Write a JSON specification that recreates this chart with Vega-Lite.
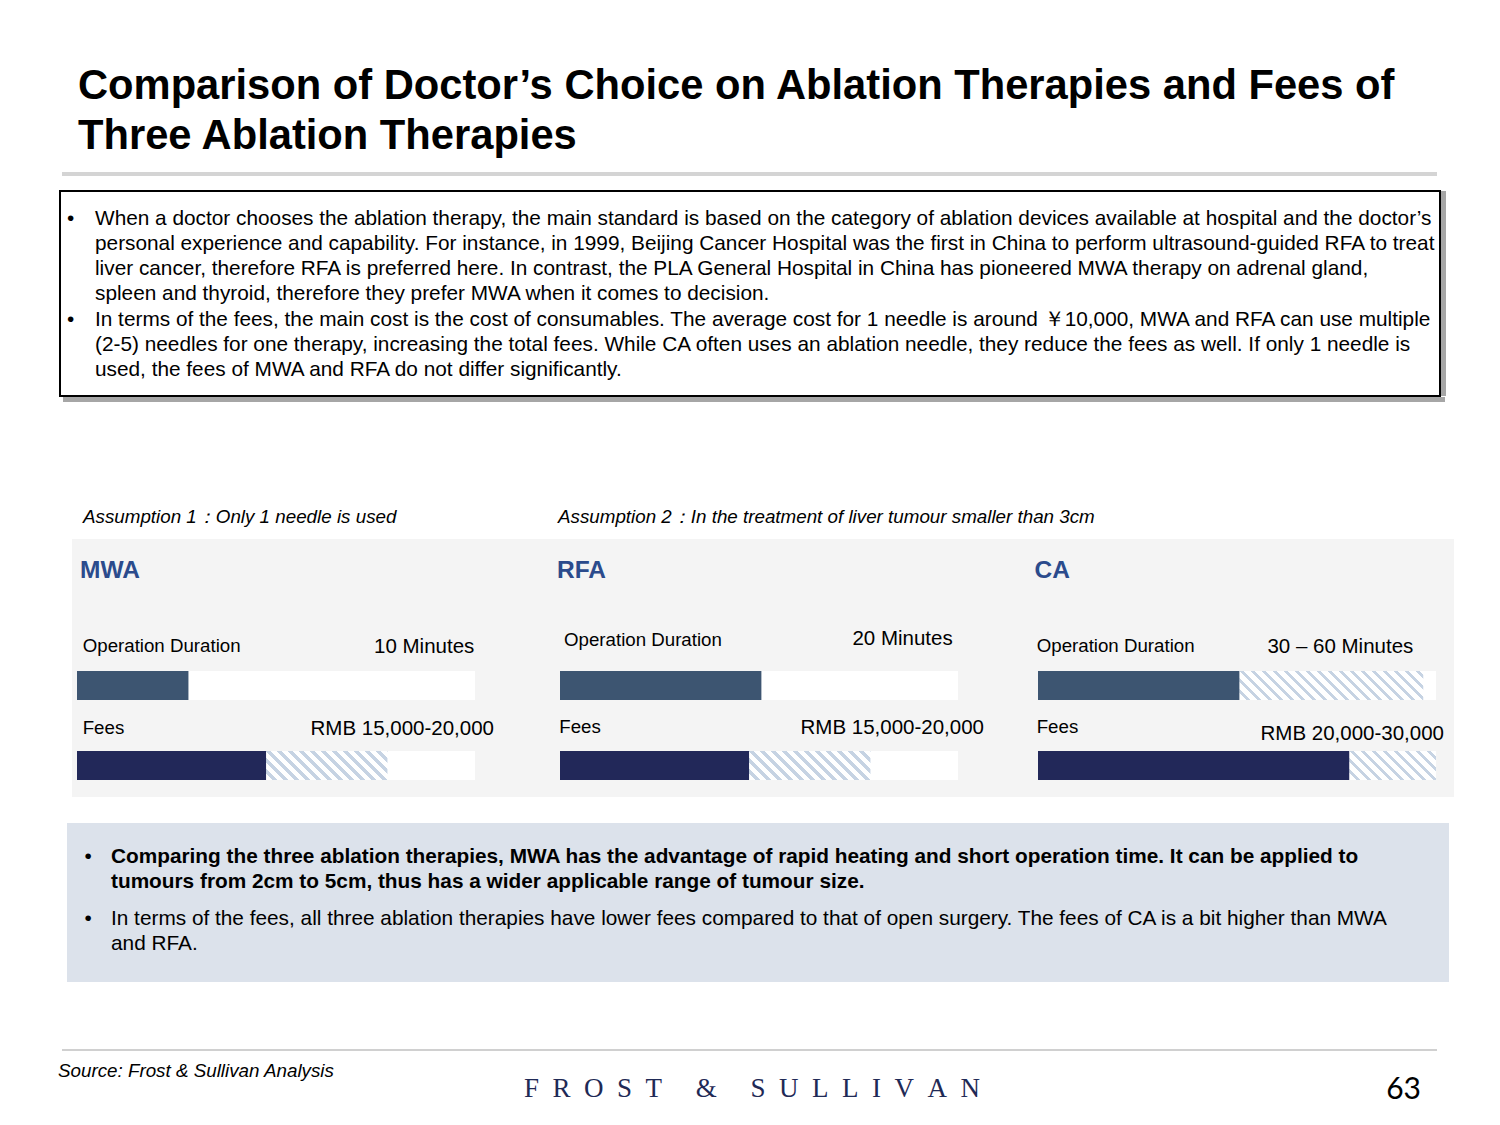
{
"$schema":"https://vega.github.io/schema/vega-lite/v6.json",
"background":"white",
"padding":0,
"spacing":0,
"config":{"view":{"stroke":null},"concat":{"spacing":0},"font":"Liberation Sans","text":{"font":"Liberation Sans"}},
"datasets":{
 "bars":[
  {"therapy":"MWA","metric":"Operation Duration","label":"10 Minutes","solid":28},
  {"therapy":"MWA","metric":"Fees","label":"RMB 15,000-20,000","solid":47.5,"upper":78},
  {"therapy":"RFA","metric":"Operation Duration","label":"20 Minutes","solid":50.6},
  {"therapy":"RFA","metric":"Fees","label":"RMB 15,000-20,000","solid":47.5,"upper":78},
  {"therapy":"CA","metric":"Operation Duration","label":"30 – 60 Minutes","solid":50.6,"upper":96.8},
  {"therapy":"CA","metric":"Fees","label":"RMB 20,000-30,000","solid":78.2,"upper":100}
 ],
 "summary":[
  {"bullet":1,"lines":["When a doctor chooses the ablation therapy, the main standard is based on the category of ablation devices available at hospital and the doctor’s","personal experience and capability. For instance, in 1999, Beijing Cancer Hospital was the first in China to perform ultrasound-guided RFA to treat","liver cancer, therefore RFA is preferred here. In contrast, the  PLA General Hospital in China has pioneered MWA therapy on adrenal gland,","spleen and thyroid, therefore they prefer MWA when it comes to decision."]},
  {"bullet":2,"lines":["In terms of the fees, the main cost is the cost of consumables. The average cost for 1 needle is around ￥10,000, MWA and RFA can use multiple","(2-5) needles for one therapy, increasing the total fees. While CA often uses an ablation needle, they reduce the fees as well. If only 1 needle is","used, the fees of MWA and RFA do not differ significantly."]}
 ],
 "assumptions":[
  {"id":1,"text":"Assumption 1：Only 1 needle is used"},
  {"id":2,"text":"Assumption 2：In the treatment of liver tumour smaller than 3cm"}
 ],
 "conclusions":[
  {"bullet":1,"bold":true,"lines":["Comparing the three ablation therapies, MWA has the advantage of rapid heating and short operation time. It can be applied to","tumours from 2cm to 5cm, thus has a wider applicable range of tumour size."]},
  {"bullet":2,"bold":false,"lines":["In terms of the fees, all three ablation therapies have lower fees compared to that of open surgery. The fees of CA is a bit higher than MWA","and RFA."]}
 ]
},
"vconcat":[
 {"width":1500,"height":172,"data":{"values":[{}]},
  "mark":{"type":"text","text":["Comparison of Doctor’s Choice on Ablation Therapies and Fees of","Three Ablation Therapies"],"align":"left","baseline":"alphabetic","fontSize":41.7,"fontWeight":"bold","lineHeight":50,"color":"#000000"},
  "encoding":{"x":{"value":78},"y":{"value":99}}},
 {"hconcat":[
   {"width":62,"height":4,"data":{"values":[]},"mark":"point","encoding":{}},
   {"width":1375,"height":4,"view":{"fill":"#d4d4d4"},"data":{"values":[]},"mark":"point","encoding":{}}
  ],"spacing":0},
 {"width":1500,"height":14,"data":{"values":[]},"mark":"point","encoding":{}},
 {"hconcat":[
   {"width":59,"height":205,"data":{"values":[]},"mark":"point","encoding":{}},
   {"width":1380,"height":205,"view":{"fill":"white","stroke":"black","strokeWidth":2},
    "data":{"name":"summary"},
    "layer":[
     {"mark":{"type":"text","align":"left","baseline":"alphabetic","fontSize":20.8,"lineHeight":25.1,"color":"#000000"},
      "encoding":{"x":{"value":35},"y":{"field":"bullet","type":"ordinal","scale":{"type":"point","range":[34,134.6],"padding":0},"axis":null},"text":{"field":"lines","type":"nominal"}}},
     {"mark":{"type":"text","text":"•","align":"left","baseline":"alphabetic","fontSize":20.8,"color":"#000000"},
      "encoding":{"x":{"value":7},"y":{"field":"bullet","type":"ordinal","axis":null}}}
    ]},
   {"width":5,"height":205,"view":{"fill":"#a6a6a6"},"data":{"values":[]},"mark":"point","encoding":{}}
  ],"spacing":0},
 {"hconcat":[
   {"width":63,"height":5,"data":{"values":[]},"mark":"point","encoding":{}},
   {"width":1382,"height":5,"view":{"fill":"#a6a6a6"},"data":{"values":[]},"mark":"point","encoding":{}}
  ],"spacing":0},
 {"width":1500,"height":137,"data":{"name":"assumptions"},
  "mark":{"type":"text","align":"left","baseline":"alphabetic","fontSize":18.8,"fontStyle":"italic","color":"#000000"},
  "encoding":{"x":{"field":"id","type":"ordinal","scale":{"type":"point","range":[83,558],"padding":0},"axis":null},"y":{"value":121},"text":{"field":"text","type":"nominal"}}},
 {"hconcat":[
   {"width":72,"height":258,"data":{"values":[]},"mark":"point","encoding":{}},
   {"width":460,"height":258,"view":{"fill":"#f4f4f4"},"data":{"name":"bars"},
    "transform":[{"filter":"datum.therapy === 'MWA'"}],
    "layer":[
     {"mark":{"type":"bar","color":"#ffffff"},
      "encoding":{"y":{"field":"metric","type":"nominal","scale":{"type":"band","domain":["Operation Duration","Fees"],"range":[132,241],"paddingInner":0.6375,"paddingOuter":0},"axis":null},
       "x":{"datum":100,"type":"quantitative","scale":{"domain":[0,100],"range":[5,403],"nice":false,"zero":true},"axis":null}}},
     {"transform":[{"filter":"datum.metric === 'Fees'"}],
      "mark":{"type":"bar","fill":{"gradient":"linear","x1":0,"y1":1,"x2":1.7145,"y2":0.5904,"stops":[{"offset":0,"color":"#fff"},{"offset":0.031,"color":"#fff"},{"offset":0.031,"color":"#c6d3e3"},{"offset":0.05,"color":"#c6d3e3"},{"offset":0.05,"color":"#fff"},{"offset":0.081,"color":"#fff"},{"offset":0.081,"color":"#c6d3e3"},{"offset":0.1,"color":"#c6d3e3"},{"offset":0.1,"color":"#fff"},{"offset":0.131,"color":"#fff"},{"offset":0.131,"color":"#c6d3e3"},{"offset":0.15,"color":"#c6d3e3"},{"offset":0.15,"color":"#fff"},{"offset":0.181,"color":"#fff"},{"offset":0.181,"color":"#c6d3e3"},{"offset":0.2,"color":"#c6d3e3"},{"offset":0.2,"color":"#fff"},{"offset":0.231,"color":"#fff"},{"offset":0.231,"color":"#c6d3e3"},{"offset":0.25,"color":"#c6d3e3"},{"offset":0.25,"color":"#fff"},{"offset":0.281,"color":"#fff"},{"offset":0.281,"color":"#c6d3e3"},{"offset":0.3,"color":"#c6d3e3"},{"offset":0.3,"color":"#fff"},{"offset":0.331,"color":"#fff"},{"offset":0.331,"color":"#c6d3e3"},{"offset":0.35,"color":"#c6d3e3"},{"offset":0.35,"color":"#fff"},{"offset":0.381,"color":"#fff"},{"offset":0.381,"color":"#c6d3e3"},{"offset":0.4,"color":"#c6d3e3"},{"offset":0.4,"color":"#fff"},{"offset":0.431,"color":"#fff"},{"offset":0.431,"color":"#c6d3e3"},{"offset":0.45,"color":"#c6d3e3"},{"offset":0.45,"color":"#fff"},{"offset":0.481,"color":"#fff"},{"offset":0.481,"color":"#c6d3e3"},{"offset":0.5,"color":"#c6d3e3"},{"offset":0.5,"color":"#fff"},{"offset":0.531,"color":"#fff"},{"offset":0.531,"color":"#c6d3e3"},{"offset":0.55,"color":"#c6d3e3"},{"offset":0.55,"color":"#fff"},{"offset":0.581,"color":"#fff"},{"offset":0.581,"color":"#c6d3e3"},{"offset":0.6,"color":"#c6d3e3"},{"offset":0.6,"color":"#fff"},{"offset":0.631,"color":"#fff"},{"offset":0.631,"color":"#c6d3e3"},{"offset":0.65,"color":"#c6d3e3"},{"offset":0.65,"color":"#fff"},{"offset":0.681,"color":"#fff"},{"offset":0.681,"color":"#c6d3e3"},{"offset":0.7,"color":"#c6d3e3"}]}},
      "encoding":{"y":{"field":"metric","type":"nominal"},"x":{"field":"solid","type":"quantitative"},"x2":{"field":"upper"}}},
     {"mark":{"type":"bar"},
      "encoding":{"y":{"field":"metric","type":"nominal"},"x":{"field":"solid","type":"quantitative"},
       "color":{"field":"metric","type":"nominal","scale":{"domain":["Operation Duration","Fees"],"range":["#3d5571","#222859"]},"legend":null}}},
     {"transform":[{"filter":"datum.metric === 'Operation Duration'"}],
      "mark":{"type":"text","align":"left","baseline":"alphabetic","fontSize":24.5,"fontWeight":"bold","color":"#2b4b8c","dx":3,"dy":-107.5},
      "encoding":{"y":{"field":"metric","type":"nominal"},"x":{"datum":0,"type":"quantitative"},"text":{"field":"therapy","type":"nominal"}}},
     {"transform":[{"filter":"datum.metric === 'Operation Duration'"}],
      "mark":{"type":"text","align":"left","baseline":"alphabetic","fontSize":18.7,"color":"#000000","dx":5.7,"dy":-33.5},
      "encoding":{"y":{"field":"metric","type":"nominal"},"x":{"datum":0,"type":"quantitative"},"text":{"field":"metric","type":"nominal"}}},
     {"transform":[{"filter":"datum.metric === 'Operation Duration'"}],
      "mark":{"type":"text","align":"right","baseline":"alphabetic","fontSize":20.5,"color":"#000000","dx":-0.7,"dy":-32.5},
      "encoding":{"y":{"field":"metric","type":"nominal"},"x":{"datum":100,"type":"quantitative"},"text":{"field":"label","type":"nominal"}}},
     {"transform":[{"filter":"datum.metric === 'Fees'"}],
      "mark":{"type":"text","align":"left","baseline":"alphabetic","fontSize":18.7,"color":"#000000","dx":5.7,"dy":-31.5},
      "encoding":{"y":{"field":"metric","type":"nominal"},"x":{"datum":0,"type":"quantitative"},"text":{"field":"metric","type":"nominal"}}},
     {"transform":[{"filter":"datum.metric === 'Fees'"}],
      "mark":{"type":"text","align":"right","baseline":"alphabetic","fontSize":20.5,"color":"#000000","dx":19,"dy":-30.5},
      "encoding":{"y":{"field":"metric","type":"nominal"},"x":{"datum":100,"type":"quantitative"},"text":{"field":"label","type":"nominal"}}}
    ]},
   {"width":460,"height":258,"view":{"fill":"#f4f4f4"},"data":{"name":"bars"},
    "transform":[{"filter":"datum.therapy === 'RFA'"}],
    "layer":[
     {"mark":{"type":"bar","color":"#ffffff"},
      "encoding":{"y":{"field":"metric","type":"nominal","scale":{"type":"band","domain":["Operation Duration","Fees"],"range":[132,241],"paddingInner":0.6375,"paddingOuter":0},"axis":null},
       "x":{"datum":100,"type":"quantitative","scale":{"domain":[0,100],"range":[28,426],"nice":false,"zero":true},"axis":null}}},
     {"transform":[{"filter":"datum.metric === 'Fees'"}],
      "mark":{"type":"bar","fill":{"gradient":"linear","x1":0,"y1":1,"x2":1.7145,"y2":0.5904,"stops":[{"offset":0,"color":"#fff"},{"offset":0.031,"color":"#fff"},{"offset":0.031,"color":"#c6d3e3"},{"offset":0.05,"color":"#c6d3e3"},{"offset":0.05,"color":"#fff"},{"offset":0.081,"color":"#fff"},{"offset":0.081,"color":"#c6d3e3"},{"offset":0.1,"color":"#c6d3e3"},{"offset":0.1,"color":"#fff"},{"offset":0.131,"color":"#fff"},{"offset":0.131,"color":"#c6d3e3"},{"offset":0.15,"color":"#c6d3e3"},{"offset":0.15,"color":"#fff"},{"offset":0.181,"color":"#fff"},{"offset":0.181,"color":"#c6d3e3"},{"offset":0.2,"color":"#c6d3e3"},{"offset":0.2,"color":"#fff"},{"offset":0.231,"color":"#fff"},{"offset":0.231,"color":"#c6d3e3"},{"offset":0.25,"color":"#c6d3e3"},{"offset":0.25,"color":"#fff"},{"offset":0.281,"color":"#fff"},{"offset":0.281,"color":"#c6d3e3"},{"offset":0.3,"color":"#c6d3e3"},{"offset":0.3,"color":"#fff"},{"offset":0.331,"color":"#fff"},{"offset":0.331,"color":"#c6d3e3"},{"offset":0.35,"color":"#c6d3e3"},{"offset":0.35,"color":"#fff"},{"offset":0.381,"color":"#fff"},{"offset":0.381,"color":"#c6d3e3"},{"offset":0.4,"color":"#c6d3e3"},{"offset":0.4,"color":"#fff"},{"offset":0.431,"color":"#fff"},{"offset":0.431,"color":"#c6d3e3"},{"offset":0.45,"color":"#c6d3e3"},{"offset":0.45,"color":"#fff"},{"offset":0.481,"color":"#fff"},{"offset":0.481,"color":"#c6d3e3"},{"offset":0.5,"color":"#c6d3e3"},{"offset":0.5,"color":"#fff"},{"offset":0.531,"color":"#fff"},{"offset":0.531,"color":"#c6d3e3"},{"offset":0.55,"color":"#c6d3e3"},{"offset":0.55,"color":"#fff"},{"offset":0.581,"color":"#fff"},{"offset":0.581,"color":"#c6d3e3"},{"offset":0.6,"color":"#c6d3e3"},{"offset":0.6,"color":"#fff"},{"offset":0.631,"color":"#fff"},{"offset":0.631,"color":"#c6d3e3"},{"offset":0.65,"color":"#c6d3e3"},{"offset":0.65,"color":"#fff"},{"offset":0.681,"color":"#fff"},{"offset":0.681,"color":"#c6d3e3"},{"offset":0.7,"color":"#c6d3e3"}]}},
      "encoding":{"y":{"field":"metric","type":"nominal"},"x":{"field":"solid","type":"quantitative"},"x2":{"field":"upper"}}},
     {"mark":{"type":"bar"},
      "encoding":{"y":{"field":"metric","type":"nominal"},"x":{"field":"solid","type":"quantitative"},
       "color":{"field":"metric","type":"nominal","scale":{"domain":["Operation Duration","Fees"],"range":["#3d5571","#222859"]},"legend":null}}},
     {"transform":[{"filter":"datum.metric === 'Operation Duration'"}],
      "mark":{"type":"text","align":"left","baseline":"alphabetic","fontSize":24.5,"fontWeight":"bold","color":"#2b4b8c","dx":-3,"dy":-107.5},
      "encoding":{"y":{"field":"metric","type":"nominal"},"x":{"datum":0,"type":"quantitative"},"text":{"field":"therapy","type":"nominal"}}},
     {"transform":[{"filter":"datum.metric === 'Operation Duration'"}],
      "mark":{"type":"text","align":"left","baseline":"alphabetic","fontSize":18.7,"color":"#000000","dx":4,"dy":-39.5},
      "encoding":{"y":{"field":"metric","type":"nominal"},"x":{"datum":0,"type":"quantitative"},"text":{"field":"metric","type":"nominal"}}},
     {"transform":[{"filter":"datum.metric === 'Operation Duration'"}],
      "mark":{"type":"text","align":"right","baseline":"alphabetic","fontSize":20.5,"color":"#000000","dx":-5.3,"dy":-40.8},
      "encoding":{"y":{"field":"metric","type":"nominal"},"x":{"datum":100,"type":"quantitative"},"text":{"field":"label","type":"nominal"}}},
     {"transform":[{"filter":"datum.metric === 'Fees'"}],
      "mark":{"type":"text","align":"left","baseline":"alphabetic","fontSize":18.7,"color":"#000000","dx":-0.7,"dy":-32.2},
      "encoding":{"y":{"field":"metric","type":"nominal"},"x":{"datum":0,"type":"quantitative"},"text":{"field":"metric","type":"nominal"}}},
     {"transform":[{"filter":"datum.metric === 'Fees'"}],
      "mark":{"type":"text","align":"right","baseline":"alphabetic","fontSize":20.5,"color":"#000000","dx":26,"dy":-31.5},
      "encoding":{"y":{"field":"metric","type":"nominal"},"x":{"datum":100,"type":"quantitative"},"text":{"field":"label","type":"nominal"}}}
    ]},
   {"width":462,"height":258,"view":{"fill":"#f4f4f4"},"data":{"name":"bars"},
    "transform":[{"filter":"datum.therapy === 'CA'"}],
    "layer":[
     {"mark":{"type":"bar","color":"#ffffff"},
      "encoding":{"y":{"field":"metric","type":"nominal","scale":{"type":"band","domain":["Operation Duration","Fees"],"range":[132,241],"paddingInner":0.6375,"paddingOuter":0},"axis":null},
       "x":{"datum":100,"type":"quantitative","scale":{"domain":[0,100],"range":[46,444],"nice":false,"zero":true},"axis":null}}},
     {"transform":[{"filter":"datum.metric === 'Operation Duration'"}],
      "mark":{"type":"bar","fill":{"gradient":"linear","x1":0,"y1":1,"x2":1.1674,"y2":0.8159,"stops":[{"offset":0,"color":"#fff"},{"offset":0.031,"color":"#fff"},{"offset":0.031,"color":"#c6d3e3"},{"offset":0.05,"color":"#c6d3e3"},{"offset":0.05,"color":"#fff"},{"offset":0.081,"color":"#fff"},{"offset":0.081,"color":"#c6d3e3"},{"offset":0.1,"color":"#c6d3e3"},{"offset":0.1,"color":"#fff"},{"offset":0.131,"color":"#fff"},{"offset":0.131,"color":"#c6d3e3"},{"offset":0.15,"color":"#c6d3e3"},{"offset":0.15,"color":"#fff"},{"offset":0.181,"color":"#fff"},{"offset":0.181,"color":"#c6d3e3"},{"offset":0.2,"color":"#c6d3e3"},{"offset":0.2,"color":"#fff"},{"offset":0.231,"color":"#fff"},{"offset":0.231,"color":"#c6d3e3"},{"offset":0.25,"color":"#c6d3e3"},{"offset":0.25,"color":"#fff"},{"offset":0.281,"color":"#fff"},{"offset":0.281,"color":"#c6d3e3"},{"offset":0.3,"color":"#c6d3e3"},{"offset":0.3,"color":"#fff"},{"offset":0.331,"color":"#fff"},{"offset":0.331,"color":"#c6d3e3"},{"offset":0.35,"color":"#c6d3e3"},{"offset":0.35,"color":"#fff"},{"offset":0.381,"color":"#fff"},{"offset":0.381,"color":"#c6d3e3"},{"offset":0.4,"color":"#c6d3e3"},{"offset":0.4,"color":"#fff"},{"offset":0.431,"color":"#fff"},{"offset":0.431,"color":"#c6d3e3"},{"offset":0.45,"color":"#c6d3e3"},{"offset":0.45,"color":"#fff"},{"offset":0.481,"color":"#fff"},{"offset":0.481,"color":"#c6d3e3"},{"offset":0.5,"color":"#c6d3e3"},{"offset":0.5,"color":"#fff"},{"offset":0.531,"color":"#fff"},{"offset":0.531,"color":"#c6d3e3"},{"offset":0.55,"color":"#c6d3e3"},{"offset":0.55,"color":"#fff"},{"offset":0.581,"color":"#fff"},{"offset":0.581,"color":"#c6d3e3"},{"offset":0.6,"color":"#c6d3e3"},{"offset":0.6,"color":"#fff"},{"offset":0.631,"color":"#fff"},{"offset":0.631,"color":"#c6d3e3"},{"offset":0.65,"color":"#c6d3e3"},{"offset":0.65,"color":"#fff"},{"offset":0.681,"color":"#fff"},{"offset":0.681,"color":"#c6d3e3"},{"offset":0.7,"color":"#c6d3e3"},{"offset":0.7,"color":"#fff"},{"offset":0.731,"color":"#fff"},{"offset":0.731,"color":"#c6d3e3"},{"offset":0.75,"color":"#c6d3e3"},{"offset":0.75,"color":"#fff"},{"offset":0.781,"color":"#fff"},{"offset":0.781,"color":"#c6d3e3"},{"offset":0.8,"color":"#c6d3e3"},{"offset":0.8,"color":"#fff"},{"offset":0.831,"color":"#fff"},{"offset":0.831,"color":"#c6d3e3"},{"offset":0.85,"color":"#c6d3e3"},{"offset":0.85,"color":"#fff"},{"offset":0.881,"color":"#fff"},{"offset":0.881,"color":"#c6d3e3"},{"offset":0.9,"color":"#c6d3e3"},{"offset":0.9,"color":"#fff"},{"offset":0.931,"color":"#fff"},{"offset":0.931,"color":"#c6d3e3"},{"offset":0.95,"color":"#c6d3e3"},{"offset":0.95,"color":"#fff"},{"offset":0.981,"color":"#fff"},{"offset":0.981,"color":"#c6d3e3"},{"offset":1,"color":"#c6d3e3"}]}},
      "encoding":{"y":{"field":"metric","type":"nominal"},"x":{"field":"solid","type":"quantitative"},"x2":{"field":"upper"}}},
     {"transform":[{"filter":"datum.metric === 'Fees'"}],
      "mark":{"type":"bar","fill":{"gradient":"linear","x1":0,"y1":1,"x2":2.2809,"y2":0.2376,"stops":[{"offset":0,"color":"#fff"},{"offset":0.031,"color":"#fff"},{"offset":0.031,"color":"#c6d3e3"},{"offset":0.05,"color":"#c6d3e3"},{"offset":0.05,"color":"#fff"},{"offset":0.081,"color":"#fff"},{"offset":0.081,"color":"#c6d3e3"},{"offset":0.1,"color":"#c6d3e3"},{"offset":0.1,"color":"#fff"},{"offset":0.131,"color":"#fff"},{"offset":0.131,"color":"#c6d3e3"},{"offset":0.15,"color":"#c6d3e3"},{"offset":0.15,"color":"#fff"},{"offset":0.181,"color":"#fff"},{"offset":0.181,"color":"#c6d3e3"},{"offset":0.2,"color":"#c6d3e3"},{"offset":0.2,"color":"#fff"},{"offset":0.231,"color":"#fff"},{"offset":0.231,"color":"#c6d3e3"},{"offset":0.25,"color":"#c6d3e3"},{"offset":0.25,"color":"#fff"},{"offset":0.281,"color":"#fff"},{"offset":0.281,"color":"#c6d3e3"},{"offset":0.3,"color":"#c6d3e3"},{"offset":0.3,"color":"#fff"},{"offset":0.331,"color":"#fff"},{"offset":0.331,"color":"#c6d3e3"},{"offset":0.35,"color":"#c6d3e3"},{"offset":0.35,"color":"#fff"},{"offset":0.381,"color":"#fff"},{"offset":0.381,"color":"#c6d3e3"},{"offset":0.4,"color":"#c6d3e3"},{"offset":0.4,"color":"#fff"},{"offset":0.431,"color":"#fff"},{"offset":0.431,"color":"#c6d3e3"},{"offset":0.45,"color":"#c6d3e3"},{"offset":0.45,"color":"#fff"},{"offset":0.481,"color":"#fff"},{"offset":0.481,"color":"#c6d3e3"},{"offset":0.5,"color":"#c6d3e3"},{"offset":0.5,"color":"#fff"},{"offset":0.531,"color":"#fff"},{"offset":0.531,"color":"#c6d3e3"},{"offset":0.55,"color":"#c6d3e3"}]}},
      "encoding":{"y":{"field":"metric","type":"nominal"},"x":{"field":"solid","type":"quantitative"},"x2":{"field":"upper"}}},
     {"mark":{"type":"bar"},
      "encoding":{"y":{"field":"metric","type":"nominal"},"x":{"field":"solid","type":"quantitative"},
       "color":{"field":"metric","type":"nominal","scale":{"domain":["Operation Duration","Fees"],"range":["#3d5571","#222859"]},"legend":null}}},
     {"transform":[{"filter":"datum.metric === 'Operation Duration'"}],
      "mark":{"type":"text","align":"left","baseline":"alphabetic","fontSize":24.5,"fontWeight":"bold","color":"#2b4b8c","dx":-3.5,"dy":-107.5},
      "encoding":{"y":{"field":"metric","type":"nominal"},"x":{"datum":0,"type":"quantitative"},"text":{"field":"therapy","type":"nominal"}}},
     {"transform":[{"filter":"datum.metric === 'Operation Duration'"}],
      "mark":{"type":"text","align":"left","baseline":"alphabetic","fontSize":18.7,"color":"#000000","dx":-1.3,"dy":-33.2},
      "encoding":{"y":{"field":"metric","type":"nominal"},"x":{"datum":0,"type":"quantitative"},"text":{"field":"metric","type":"nominal"}}},
     {"transform":[{"filter":"datum.metric === 'Operation Duration'"}],
      "mark":{"type":"text","align":"right","baseline":"alphabetic","fontSize":20.5,"color":"#000000","dx":-22.7,"dy":-32.2},
      "encoding":{"y":{"field":"metric","type":"nominal"},"x":{"datum":100,"type":"quantitative"},"text":{"field":"label","type":"nominal"}}},
     {"transform":[{"filter":"datum.metric === 'Fees'"}],
      "mark":{"type":"text","align":"left","baseline":"alphabetic","fontSize":18.7,"color":"#000000","dx":-1.3,"dy":-32.2},
      "encoding":{"y":{"field":"metric","type":"nominal"},"x":{"datum":0,"type":"quantitative"},"text":{"field":"metric","type":"nominal"}}},
     {"transform":[{"filter":"datum.metric === 'Fees'"}],
      "mark":{"type":"text","align":"right","baseline":"alphabetic","fontSize":20.5,"color":"#000000","dx":8,"dy":-25.5},
      "encoding":{"y":{"field":"metric","type":"nominal"},"x":{"datum":100,"type":"quantitative"},"text":{"field":"label","type":"nominal"}}}
    ]}
  ],"spacing":0},
 {"width":1500,"height":26,"data":{"values":[]},"mark":"point","encoding":{}},
 {"hconcat":[
   {"width":67,"height":159,"data":{"values":[]},"mark":"point","encoding":{}},
   {"width":1382,"height":159,"view":{"fill":"#dce2eb"},"data":{"name":"conclusions"},
    "layer":[
     {"transform":[{"filter":"datum.bold"}],
      "mark":{"type":"text","align":"left","baseline":"alphabetic","fontSize":20.8,"fontWeight":"bold","lineHeight":25,"color":"#000000"},
      "encoding":{"x":{"value":44},"y":{"field":"bullet","type":"ordinal","scale":{"type":"point","range":[40,102],"padding":0},"axis":null},"text":{"field":"lines","type":"nominal"}}},
     {"transform":[{"filter":"!datum.bold"}],
      "mark":{"type":"text","align":"left","baseline":"alphabetic","fontSize":20.8,"lineHeight":25,"color":"#000000"},
      "encoding":{"x":{"value":44},"y":{"field":"bullet","type":"ordinal","axis":null},"text":{"field":"lines","type":"nominal"}}},
     {"mark":{"type":"text","text":"•","align":"left","baseline":"alphabetic","fontSize":20.8,"color":"#000000"},
      "encoding":{"x":{"value":17.5},"y":{"field":"bullet","type":"ordinal","axis":null}}}
    ]}
  ],"spacing":0},
 {"width":1500,"height":67,"data":{"values":[]},"mark":"point","encoding":{}},
 {"hconcat":[
   {"width":62,"height":2,"data":{"values":[]},"mark":"point","encoding":{}},
   {"width":1375,"height":2,"view":{"fill":"#d0d0d0"},"data":{"values":[]},"mark":"point","encoding":{}}
  ],"spacing":0},
 {"width":1500,"height":74,"data":{"values":[{}]},
  "layer":[
   {"mark":{"type":"text","text":"Source: Frost & Sullivan Analysis","align":"left","baseline":"alphabetic","fontSize":18.8,"fontStyle":"italic","color":"#000000"},
    "encoding":{"x":{"value":58},"y":{"value":26}}},
   {"mark":{"type":"text","text":"F\u00a0\u00a0R\u00a0\u00a0O\u00a0\u00a0S\u00a0\u00a0T\u00a0\u00a0\u00a0\u00a0\u00a0&\u00a0\u00a0\u00a0\u00a0\u00a0S\u00a0\u00a0U\u00a0\u00a0L\u00a0\u00a0L\u00a0\u00a0I\u00a0\u00a0V\u00a0\u00a0A\u00a0\u00a0N","align":"center","baseline":"alphabetic","font":"Liberation Serif","fontSize":27,"color":"#1f2a56"},
    "encoding":{"x":{"value":752},"y":{"value":46}}},
   {"mark":{"type":"text","text":"63","align":"right","baseline":"alphabetic","font":"Lato","fontSize":30,"color":"#000000"},
    "encoding":{"x":{"value":1421},"y":{"value":48}}}
  ]}
]
}
